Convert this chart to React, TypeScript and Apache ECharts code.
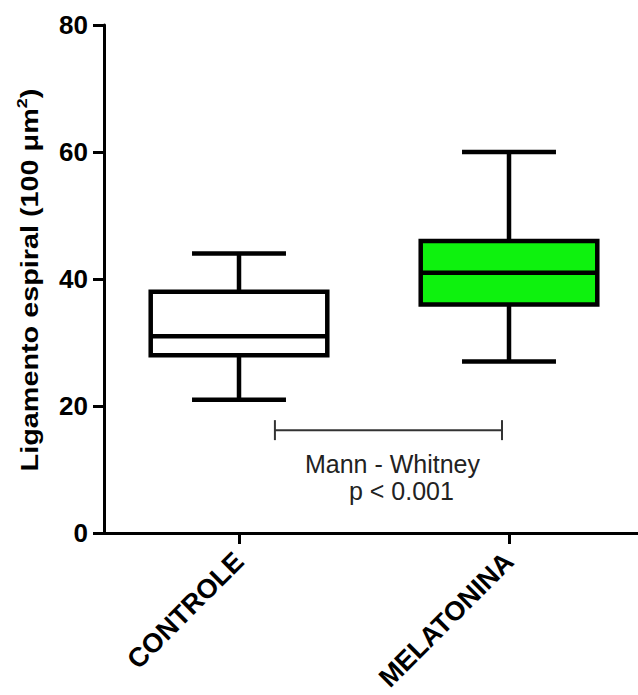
import React, { useEffect, useRef } from "react";
import * as echarts from "echarts";

// ---- data ----
const categories = ["CONTROLE", "MELATONINA"];
const whiskerLow = [21, 27];
const quartile1 = [28, 36];
const medians = [31, 41];
const quartile3 = [38, 46];
const whiskerHigh = [44, 60];
const boxFills = ["#ffffff", "#0ef20e"];
const yMin = 0;
const yMax = 80;
const yStep = 20;
const bracketFrom = [0.133];
const bracketTo = [0.974];
const bracketLevel = [16.2];
const statLines = ["Mann - Whitney", "p < 0.001"];
const yTitle = "Ligamento espiral (100 \u03bcm";

const FONT = 'Arial, "Liberation Sans", Helvetica, sans-serif';

export default function App() {
  const ref = useRef<HTMLDivElement>(null);

  useEffect(() => {
    if (!ref.current) return;
    const chart = echarts.init(ref.current, null, { renderer: "svg" });

    const boxData = categories.map((_, i) => [
      i,
      whiskerLow[i],
      quartile1[i],
      medians[i],
      quartile3[i],
      whiskerHigh[i],
    ]);
    const bracketData = bracketFrom.map((f, i) => [f, bracketTo[i], bracketLevel[i]]);

    const LW = 4.5;

    const option: any = {
      animation: false,
      backgroundColor: "#ffffff",
      grid: { left: 104, right: 0, top: 25, bottom: 162, containLabel: false },
      xAxis: [
        {
          type: "category",
          data: categories,
          boundaryGap: true,
          axisLine: { show: true, onZero: false, lineStyle: { color: "#000", width: 3 } },
          axisTick: { show: true, alignWithLabel: true, length: 11, lineStyle: { color: "#000", width: 3 } },
          axisLabel: {
            interval: 0,
            rotate: 45,
            margin: 24,
            color: "#000",
            fontSize: 27,
            fontWeight: "bold",
            fontFamily: FONT,
          },
          splitLine: { show: false },
        },
        {
          type: "value",
          min: -0.5,
          max: 1.5,
          show: false,
        },
      ],
      yAxis: {
        type: "value",
        min: yMin,
        max: yMax,
        interval: yStep,
        axisLine: { show: true, onZero: false, lineStyle: { color: "#000", width: 3 } },
        axisTick: { show: true, length: 11, lineStyle: { color: "#000", width: 3 } },
        axisLabel: {
          margin: 16,
          color: "#000",
          fontSize: 26,
          fontWeight: "bold",
          fontFamily: FONT,
        },
        splitLine: { show: false },
      },
      graphic: [
        {
          type: "text",
          x: 30,
          y: 280,
          rotation: Math.PI / 2,
          scaleX: 1.2,
          scaleY: 1,
          style: {
            text: "{a|" + yTitle + "}{s|2}{a|)}",
            align: "center",
            verticalAlign: "middle",
            fill: "#000",
            rich: {
              a: { fontSize: 24, fontWeight: "bold", fontFamily: FONT, lineHeight: 30, fill: "#000" },
              s: { fontSize: 15, fontWeight: "bold", fontFamily: FONT, lineHeight: 14, verticalAlign: "top", fill: "#000" },
            },
          },
        },
      ],
      series: [
        {
          type: "custom",
          xAxisIndex: 0,
          yAxisIndex: 0,
          encode: { x: 0, y: [1, 2, 3, 4, 5] },
          data: boxData,
          clip: false,
          renderItem: (params: any, api: any) => {
            const i = api.value(0);
            const band = api.size([1, 0])[0];
            const bw = band * 0.654;
            const cw = band * 0.348;
            const pLow = api.coord([i, api.value(1)]);
            const yQ1 = api.coord([i, api.value(2)])[1];
            const yMed = api.coord([i, api.value(3)])[1];
            const yQ3 = api.coord([i, api.value(4)])[1];
            const yHigh = api.coord([i, api.value(5)])[1];
            const cx = pLow[0];
            const yLow = pLow[1];
            const ls = { stroke: "#000", lineWidth: LW, fill: null };
            return {
              type: "group",
              children: [
                { type: "line", shape: { x1: cx, y1: yQ3, x2: cx, y2: yHigh }, style: ls },
                { type: "line", shape: { x1: cx, y1: yQ1, x2: cx, y2: yLow }, style: ls },
                { type: "line", shape: { x1: cx - cw / 2, y1: yHigh, x2: cx + cw / 2, y2: yHigh }, style: ls },
                { type: "line", shape: { x1: cx - cw / 2, y1: yLow, x2: cx + cw / 2, y2: yLow }, style: ls },
                {
                  type: "rect",
                  shape: { x: cx - bw / 2, y: yQ3, width: bw, height: yQ1 - yQ3 },
                  style: { fill: boxFills[params.dataIndex], stroke: "#000", lineWidth: LW },
                },
                { type: "line", shape: { x1: cx - bw / 2, y1: yMed, x2: cx + bw / 2, y2: yMed }, style: ls },
              ],
            };
          },
        },
        {
          type: "custom",
          xAxisIndex: 1,
          yAxisIndex: 0,
          encode: { x: [0, 1], y: 2 },
          data: bracketData,
          clip: false,
          renderItem: (params: any, api: any) => {
            const p1 = api.coord([api.value(0), api.value(2)]);
            const p2 = api.coord([api.value(1), api.value(2)]);
            const mid = (p1[0] + p2[0]) / 2;
            const st = { stroke: "#333", lineWidth: 2, fill: null };
            return {
              type: "group",
              children: [
                { type: "line", shape: { x1: p1[0], y1: p1[1], x2: p2[0], y2: p2[1] }, style: st },
                { type: "line", shape: { x1: p1[0], y1: p1[1] - 10, x2: p1[0], y2: p1[1] + 10 }, style: st },
                { type: "line", shape: { x1: p2[0], y1: p2[1] - 10, x2: p2[0], y2: p2[1] + 10 }, style: st },
                {
                  type: "text",
                  x: mid + 4,
                  y: p1[1] + 34,
                  style: {
                    text: statLines[0],
                    align: "center",
                    verticalAlign: "middle",
                    fontSize: 25,
                    fontFamily: FONT,
                    fill: "#222",
                  },
                },
                {
                  type: "text",
                  x: mid + 13,
                  y: p1[1] + 61,
                  style: {
                    text: statLines[1],
                    align: "center",
                    verticalAlign: "middle",
                    fontSize: 25,
                    fontFamily: FONT,
                    fill: "#222",
                  },
                },
              ],
            };
          },
        },
      ],
    };

    chart.setOption(option);
    return () => chart.dispose();
  }, []);

  return (
    <div
      style={{
        position: "absolute",
        left: 0,
        top: 0,
        width: 638,
        height: 695,
        overflow: "hidden",
        background: "#fff",
      }}
    >
      <div ref={ref} style={{ width: 644, height: 695 }} />
    </div>
  );
}
